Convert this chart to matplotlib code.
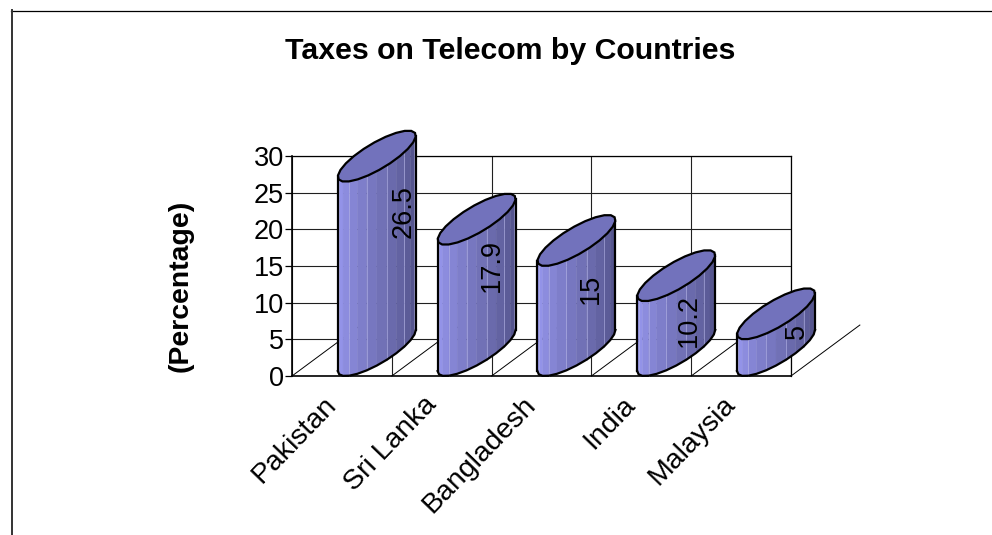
import numpy as np
import matplotlib
matplotlib.use('Agg')
import matplotlib.pyplot as plt
from matplotlib.lines import Line2D

plt.rcParams['font.family'] = ['Liberation Sans', 'DejaVu Sans']

countries = ['Pakistan', 'Sri Lanka', 'Bangladesh', 'India', 'Malaysia']
taxes = [26.5, 17.9, 15, 10.2, 5]
value_labels = ['26.5', '17.9', '15', '10.2', '5']
y_ticks = [0, 5, 10, 15, 20, 25, 30]

# label placement, in axis units
label_x = [1.12, 2.0, 2.99, 3.98, 5.06]
label_y = [22.4, 15.0, 11.9, 7.6, 6.1]

# cylinder shape, in axis units
CENTER = 0.85
HALF_W = 0.2305
HALF_D = 0.3155
RISE = 3.48
# floor depth for the diagonal lines
FLOOR_DX = 0.69
FLOOR_DY = 6.95

LIGHT = np.array([0x9A, 0x9A, 0xF2]) / 255
DARK = np.array([0x4E, 0x4E, 0x84]) / 255
CAP = '#7272BC'


def ring(cx, base, t):
    x = cx + HALF_W * np.cos(t) + HALF_D * np.sin(t)
    y = base + RISE + RISE * np.sin(t)
    return x, y


def draw_cylinder(ax, cx, value):
    phase = np.arctan2(HALF_D, HALF_W)
    t_front = np.linspace(phase + np.pi, phase + 2 * np.pi, 13)
    x, y_low = ring(cx, 0, t_front)
    y_high = y_low + value

    # side facets, getting darker to the right
    for j in range(len(x) - 1):
        frac = j / (len(x) - 2)
        col = LIGHT + (DARK - LIGHT) * frac
        ax.fill([x[j], x[j + 1], x[j + 1], x[j]],
                [y_low[j], y_low[j + 1], y_high[j + 1], y_high[j]],
                color=col, lw=0.3, zorder=3, clip_on=False)
        if j % 2 == 1:
            ax.plot([x[j], x[j]], [y_low[j], y_high[j]], color='#B4B4E8',
                    lw=0.6, alpha=0.7, zorder=3.5, clip_on=False)

    # outline of the side
    ax.plot(x, y_low, color='black', lw=1.6, zorder=4, clip_on=False)
    ax.plot([x[0], x[0]], [y_low[0], y_high[0]], color='black', lw=1.6, zorder=4, clip_on=False)
    ax.plot([x[-1], x[-1]], [y_low[-1], y_high[-1]], color='black', lw=1.6, zorder=4, clip_on=False)

    # top of the cylinder
    t_cap = np.linspace(0, 2 * np.pi, 23)
    xc, yc = ring(cx, value, t_cap)
    ax.fill(xc, yc, facecolor=CAP, edgecolor='black', lw=1.6, zorder=5, clip_on=False)


fig = plt.figure(figsize=(9.92, 5.35), dpi=100)
ax = fig.add_axes([292 / 992, (535 - 376) / 535, 499 / 992, 220 / 535])
ax.set_xlim(0, 5)
ax.set_ylim(0, 30)

for spine in ax.spines.values():
    spine.set_linewidth(0.9)
ax.spines['left'].set_linewidth(1.2)
ax.spines['bottom'].set_linewidth(1.2)

ax.set_yticks(y_ticks)
ax.set_xticks(range(6))
ax.set_xticklabels([])
ax.set_xticks([i + 0.31 for i in range(5)], minor=True)
ax.set_xticklabels(countries, minor=True, rotation=46, ha='right', va='top',
                   rotation_mode='anchor', fontsize=20.5)
ax.tick_params(axis='x', which='both', length=0, pad=11)
ax.tick_params(axis='y', length=5, width=0.9, labelsize=19.5, pad=1)
ax.grid(True, color='#202020', lw=0.8, zorder=0)
ax.set_axisbelow(True)

# floor lines running back from the front edge
for i in range(6):
    ax.plot([i, i + FLOOR_DX], [0, FLOOR_DY], color='black', lw=0.7, zorder=1, clip_on=False)

for i, value in enumerate(taxes):
    draw_cylinder(ax, i + CENTER, value)
    ax.text(label_x[i], label_y[i], value_labels[i], rotation=90, ha='center', va='center',
            fontsize=19.5, color='black', zorder=6)

ax.set_ylabel('(Percentage)', fontsize=20.4, fontweight='bold')
ax.yaxis.set_label_coords((194 - 292) / 499, (376 - 286) / 220)

fig.suptitle('Taxes on Telecom by Countries', x=510 / 992, y=1 - 51 / 535, va='center',
             fontsize=21.8, fontweight='bold')

# outer chart border, top and left only
fig.add_artist(Line2D([11 / 992, 1], [1 - 10.5 / 535, 1 - 10.5 / 535], color='black', lw=0.9))
fig.add_artist(Line2D([11.5 / 992, 11.5 / 992], [0, 1 - 10 / 535], color='#333333', lw=1.4))

fig.savefig('out.png', dpi=100)
